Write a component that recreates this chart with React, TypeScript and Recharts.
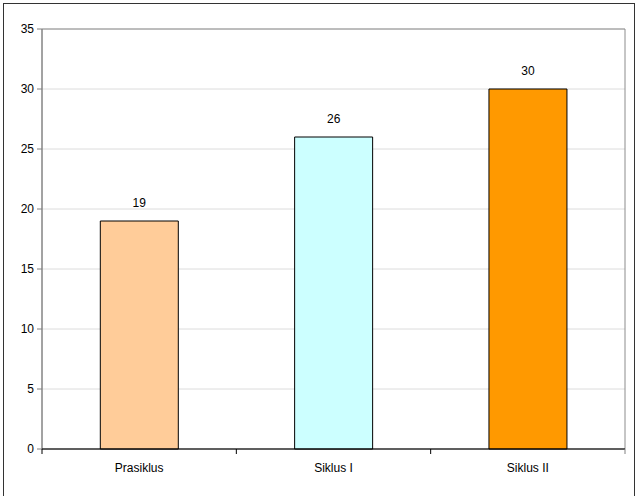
import React from 'react';
import { BarChart, Bar, XAxis, YAxis, CartesianGrid, Cell, LabelList, ReferenceArea } from 'recharts';

const categories = ['Prasiklus', 'Siklus I', 'Siklus II'];
const values = [19, 26, 30];
const colors = ['#FFCC99', '#CCFFFF', '#FF9900'];
const yTicks = [0, 5, 10, 15, 20, 25, 30, 35];

const data = categories.map((name, i) => ({ name, value: values[i] }));

const FONT = '"Liberation Sans", Arial, sans-serif';

const CatTick = (props: any) => {
  const { x, y, payload, width, visibleTicksCount, index } = props;
  const half = width / visibleTicksCount / 2;
  return (
    <g>
      <line x1={x - half} y1={y} x2={x - half} y2={y + 5} stroke="#000" strokeWidth={1} />
      {index === visibleTicksCount - 1 && (
        <line x1={x + half} y1={y} x2={x + half} y2={y + 5} stroke="#808080" strokeWidth={1} />
      )}
      <text x={x} y={y + 23} textAnchor="middle" fill="#000" fontSize={12} fontFamily={FONT}>
        {payload.value}
      </text>
    </g>
  );
};

export default function App() {
  return (
    <div style={{ position: 'absolute', left: 0, top: 0, width: 640, height: 496, background: '#fff', overflow: 'hidden' }}>
      <div style={{ position: 'absolute', left: 3, top: 3, width: 630, height: 520, border: '1px solid #333' }} />
      <div style={{ position: 'absolute', left: 0, top: 0 }}>
        <BarChart
          width={640}
          height={496}
          data={data}
          margin={{ top: 29, right: 15, left: 6, bottom: 17 }}
          barCategoryGap="30%"
        >
          <CartesianGrid horizontal vertical={false} stroke="#dcdcdc" />
          <ReferenceArea y1={0} y2={35} fill="none" stroke="#8c8c8c" strokeWidth={1} ifOverflow="visible" />
          <YAxis
            domain={[0, 35]}
            ticks={yTicks}
            width={36}
            stroke="#808080"
            tickSize={5}
            tickMargin={3}
            tick={{ fill: '#000', fontSize: 12, fontFamily: FONT }}
            interval={0}
          />
          <XAxis
            dataKey="name"
            height={30}
            stroke="#000"
            tickLine={false}
            tickSize={0}
            tickMargin={0}
            interval={0}
            tick={<CatTick />}
          />
          <Bar dataKey="value" stroke="#000" strokeWidth={1} isAnimationActive={false}>
            {data.map((d, i) => (
              <Cell key={d.name} fill={colors[i]} />
            ))}
            <LabelList dataKey="value" position="top" offset={14} fill="#000" fontSize={12} fontFamily={FONT} />
          </Bar>
        </BarChart>
      </div>
    </div>
  );
}
